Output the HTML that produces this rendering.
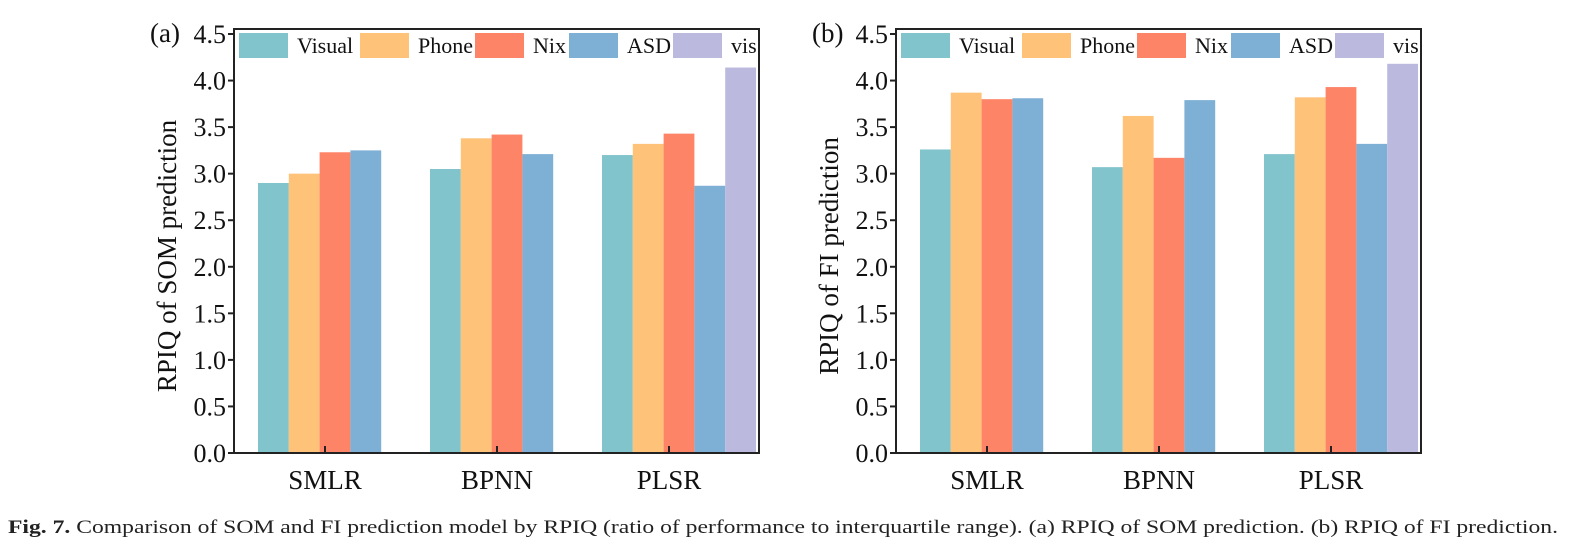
<!DOCTYPE html>
<html><head><meta charset="utf-8"><style>
html,body{margin:0;padding:0;background:#fff;}
svg{display:block;font-family:"Liberation Serif",serif;}
</style></head><body>
<svg id="fig" width="1573" height="549" viewBox="0 0 1573 549" xmlns="http://www.w3.org/2000/svg">
<text x="8" y="533" font-size="19" textLength="1550" lengthAdjust="spacingAndGlyphs" fill="#222"><tspan font-weight="bold">Fig. 7.</tspan>  Comparison of SOM and FI prediction model by RPIQ (ratio of performance to interquartile range). (a) RPIQ of SOM prediction. (b) RPIQ of FI prediction.</text>
</svg>
<script>
const categories = ["SMLR","BPNN","PLSR"];
const seriesNames = ["Visual","Phone","Nix","ASD","vis"];
const seriesColors = ["#82C4CB","#FEC279","#FE8468","#7EAFD5","#BBBADE"];
const yTicks = [0,0.5,1,1.5,2,2.5,3,3.5,4,4.5];
const somVisual = [2.90,3.05,3.20];
const somPhone = [3.00,3.38,3.32];
const somNix = [3.23,3.42,3.43];
const somASD = [3.25,3.21,2.87];
const somVis = [null,null,4.14];
const fiVisual = [3.26,3.07,3.21];
const fiPhone = [3.87,3.62,3.82];
const fiNix = [3.80,3.17,3.93];
const fiASD = [3.81,3.79,3.32];
const fiVis = [null,null,4.18];

const NS="http://www.w3.org/2000/svg";
const svg=document.getElementById('fig');
function mk(tag,attrs,parent){const e=document.createElementNS(NS,tag);for(const k in attrs)e.setAttribute(k,attrs[k]);(parent||svg).appendChild(e);return e;}

function panel(ox,label,title,series,pname){
  const L=ox, R=ox+525, T=29, B=453;
  const g=mk('g',{});
  
  
  const y=v=>B-(v/4.5)*(B-34);
  const x=i=>L+91+172*i;
  const bw=30.8;
  series.forEach((arr,s)=>{
    arr.forEach((v,i)=>{
      if(v==null)return;
      const r=mk('rect',{x:x(i)-67+s*bw,y:y(v),width:bw,height:B-y(v),fill:seriesColors[s]},g);
      
      
    });
  });
  const fr=mk('rect',{x:L,y:T,width:R-L,height:B-T,fill:'none',stroke:'#222','stroke-width':2},g);
  
  
  yTicks.forEach(t=>{
    mk('line',{x1:L-6,x2:L,y1:y(t),y2:y(t),stroke:'#222','stroke-width':2},g);
    const tx=mk('text',{x:L-8,y:y(t)+9,'font-size':26,'text-anchor':'end',fill:'#111'},g);
    tx.textContent=t.toFixed(1);
    
    
  });
  categories.forEach((c,i)=>{
    mk('line',{x1:x(i),x2:x(i),y1:B,y2:B-7,stroke:'#222','stroke-width':2},g);
    const tx=mk('text',{x:x(i),y:489,'font-size':27,'text-anchor':'middle',fill:'#111'},g);
    tx.textContent=c;
    
    
  });
  const yt=mk('text',{x:0,y:0,'font-size':27,'text-anchor':'middle',fill:'#111',transform:`translate(${L-58},${(T+B)/2+15}) rotate(-90)`},g);
  yt.textContent=title;
  
  
  const pl=mk('text',{x:L-84,y:42,'font-size':27,fill:'#111'},g);
  pl.textContent=label;
  
  
  const lx=[5,126,241,335,439];
  seriesNames.forEach((n,s)=>{
    const lg=mk('g',{},g);
    
    
    mk('rect',{x:L+lx[s],y:33,width:49,height:25,fill:seriesColors[s]},lg);
    const t=mk('text',{x:L+lx[s]+58,y:53,'font-size':22,fill:'#111'},lg);
    t.textContent=n;
  });
}
panel(234,"(a)","RPIQ of SOM prediction",[somVisual,somPhone,somNix,somASD,somVis],"panel-a-som");
panel(896,"(b)","RPIQ of FI prediction",[fiVisual,fiPhone,fiNix,fiASD,fiVis],"panel-b-fi");
</script>
</body></html>
